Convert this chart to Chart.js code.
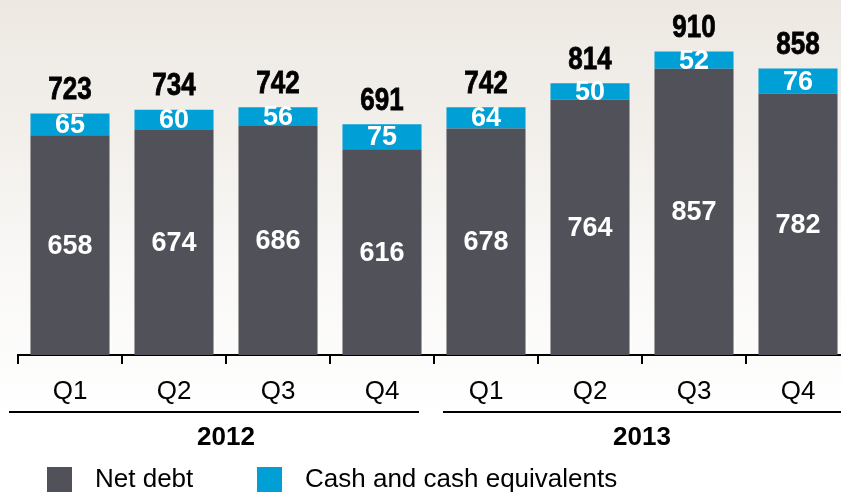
<!DOCTYPE html>
<html>
<head>
<meta charset="utf-8">
<script src="https://cdn.jsdelivr.net/npm/chart.js@4"></script>
<style>
    html, body { margin: 0; padding: 0; overflow: hidden; }
    #wrap {
        width: 841px;
        height: 492px;
        overflow: hidden;
        background: linear-gradient(to bottom, #ede8e2 0%, #f3f0ec 30%, #f8f7f5 50%, #ffffff 85%);
    }
</style>
</head>
<body>
<div id="wrap">
    <canvas id="chart" width="860" height="492"></canvas>
</div>
<script>
const quarters = ['Q1', 'Q2', 'Q3', 'Q4', 'Q1', 'Q2', 'Q3', 'Q4'];
const years = ['2012', '2013'];
const netDebt = [658, 674, 686, 616, 678, 764, 857, 782];
const cash = [65, 60, 56, 75, 64, 50, 52, 76];
const totals = [723, 734, 742, 691, 742, 814, 910, 858];

const DARK = '#515159';
const BLUE = '#009fd5';
const FONT = '"Liberation Sans", Arial, sans-serif';

// values inside the segments, totals on top, year groups and legend
const labelsPlugin = {
    id: 'labels',
    afterDatasetsDraw(chart) {
        const ctx = chart.ctx;
        ctx.save();
        ctx.textAlign = 'center';
        ctx.textBaseline = 'middle';
        ctx.fillStyle = '#ffffff';
        ctx.font = 'bold 27px ' + FONT;
        chart.data.datasets.forEach((ds, di) => {
            chart.getDatasetMeta(di).data.forEach((bar, i) => {
                ctx.fillText(String(ds.data[i]), bar.x, (bar.y + bar.base) / 2 + 1);
            });
        });

        // totals, condensed bold
        ctx.fillStyle = '#000000';
        ctx.strokeStyle = '#000000';
        ctx.lineWidth = 0.8;
        ctx.font = 'bold 31px ' + FONT;
        const top = chart.getDatasetMeta(1).data;
        top.forEach((bar, i) => {
            ctx.save();
            ctx.translate(bar.x, bar.y - 23);
            ctx.scale(0.84, 1);
            ctx.fillText(String(totals[i]), 0, 0);
            ctx.strokeText(String(totals[i]), 0, 0);
            ctx.restore();
        });
        ctx.restore();
    },
    afterDraw(chart) {
        const ctx = chart.ctx;
        const x = chart.scales.x;
        const half = (x.getPixelForValue(1) - x.getPixelForValue(0)) / 2;
        ctx.save();

        // year group lines and labels
        ctx.strokeStyle = '#000000';
        ctx.lineWidth = 2;
        ctx.fillStyle = '#000000';
        ctx.font = 'bold 26px ' + FONT;
        ctx.textAlign = 'center';
        ctx.textBaseline = 'middle';
        years.forEach((yr, g) => {
            const start = x.getPixelForValue(g * 4) - half;
            const end = x.getPixelForValue(g * 4 + 3) + half;
            const l = g === 0 ? start - 9 : start + 9;
            const r = g === 0 ? end - 15 : end;
            ctx.beginPath();
            ctx.moveTo(l, 412);
            ctx.lineTo(r, 412);
            ctx.stroke();
            ctx.fillText(yr, (start + end) / 2, 438);
        });

        // legend
        const items = [['Net debt', DARK, 47], ['Cash and cash equivalents', BLUE, 257]];
        ctx.font = '26px ' + FONT;
        ctx.textAlign = 'left';
        items.forEach(([text, color, lx]) => {
            ctx.fillStyle = color;
            ctx.fillRect(lx, 467, 25, 25);
            ctx.fillStyle = '#000000';
            ctx.fillText(text, lx + 48, 480);
        });
        ctx.restore();
    }
};

new Chart(document.getElementById('chart'), {
    type: 'bar',
    data: {
        labels: quarters,
        datasets: [
            {
                label: 'Net debt',
                data: netDebt,
                backgroundColor: DARK,
                barPercentage: 0.76,
                categoryPercentage: 1
            },
            {
                label: 'Cash and cash equivalents',
                data: cash,
                backgroundColor: BLUE,
                barPercentage: 0.76,
                categoryPercentage: 1
            }
        ]
    },
    options: {
        responsive: false,
        animation: false,
        layout: { padding: { left: 18, right: 10, top: 0, bottom: 0 } },
        plugins: {
            legend: { display: false },
            tooltip: { enabled: false }
        },
        scales: {
            x: {
                stacked: true,
                border: { display: true, color: '#000000', width: 2 },
                grid: {
                    display: true,
                    drawOnChartArea: false,
                    drawTicks: true,
                    tickLength: 9,
                    color: '#000000',
                    lineWidth: 2
                },
                ticks: {
                    color: '#000000',
                    padding: 12,
                    font: { family: FONT, size: 26 }
                },
                afterFit(scale) {
                    scale.height = 137;
                }
            },
            y: {
                stacked: true,
                display: false,
                min: 0,
                max: 1063
            }
        }
    },
    plugins: [labelsPlugin]
});
</script>
</body>
</html>
